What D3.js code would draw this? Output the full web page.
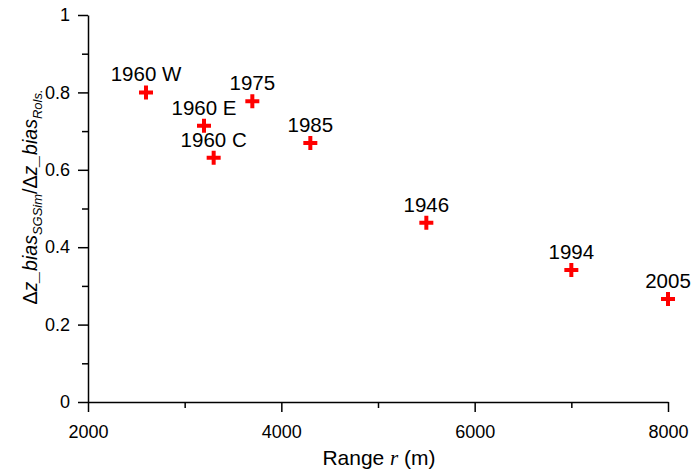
<!DOCTYPE html>
<html lang="en">
<head>
    <meta charset="UTF-8">
    <title>Bias ratio vs range</title>
    <script src="https://d3js.org/d3.v7.min.js"></script>
    <style>
        body { margin: 0; background: #fff; }
        text { font-family: Arial, "Liberation Sans", sans-serif; }
    </style>
</head>
<body>
    <div id="chart"></div>

    <script>
        // data
        const labels = ["1960 W", "1960 E", "1960 C", "1975", "1985", "1946", "1994", "2005"];
        const ranges = [2600, 3200, 3300, 3700, 4300, 5500, 7000, 8000];
        const ratios = [0.80, 0.714, 0.631, 0.777, 0.669, 0.463, 0.341, 0.266];
        const xTicks = [2000, 4000, 6000, 8000];
        const yTicks = [0, 0.2, 0.4, 0.6, 0.8, 1];

        const width = 694, height = 469;
        const margin = {left: 88, right: 26, top: 15, bottom: 67};

        const svg = d3.select("#chart").append("svg")
            .attr("width", width)
            .attr("height", height);

        const x = d3.scaleLinear().domain([2000, 8000]).range([margin.left, width - margin.right]);
        const y = d3.scaleLinear().domain([0, 1]).range([height - margin.bottom, margin.top]);

        // minor ticks first, then major axes on top
        svg.append("g")
            .attr("transform", `translate(0,${y(0)})`)
            .call(d3.axisBottom(x).tickValues([3000, 5000, 7000]).tickSize(6).tickFormat(""))
            .call(g => g.select(".domain").remove())
            .selectAll("line").attr("stroke-width", 1.5);
        svg.append("g")
            .attr("transform", `translate(${x(2000)},0)`)
            .call(d3.axisLeft(y).tickValues([0.1, 0.3, 0.5, 0.7, 0.9]).tickSize(6).tickFormat(""))
            .call(g => g.select(".domain").remove())
            .selectAll("line").attr("stroke-width", 1.5);

        const xAxis = svg.append("g")
            .attr("transform", `translate(0,${y(0)})`)
            .call(d3.axisBottom(x).tickValues(xTicks).tickSize(10).tickSizeOuter(0).tickPadding(13).tickFormat(d3.format("d")));
        const yAxis = svg.append("g")
            .attr("transform", `translate(${x(2000)},0)`)
            .call(d3.axisLeft(y).tickValues(yTicks).tickSize(10).tickSizeOuter(0).tickPadding(8).tickFormat(d => d === 0 || d === 1 ? String(d) : d.toFixed(1)));

        [xAxis, yAxis].forEach(g => {
            g.selectAll("line, path").attr("stroke", "#000").attr("stroke-width", 1.5);
            g.selectAll("text").attr("font-size", 18).attr("fill", "#000")
                .attr("font-family", "Arial, 'Liberation Sans', sans-serif");
        });

        // x-axis title
        const xt = svg.append("text")
            .attr("x", 379)
            .attr("y", 465)
            .attr("text-anchor", "middle")
            .attr("font-size", 21);
        xt.append("tspan").text("Range ");
        xt.append("tspan").attr("font-family", "'Liberation Serif', serif").attr("font-style", "italic").text("r");
        xt.append("tspan").text(" (m)");

        // y-axis title
        const yt = svg.append("text")
            .attr("transform", "translate(37,197) rotate(-90)")
            .attr("text-anchor", "middle")
            .attr("font-size", 19.5);
        yt.append("tspan").text("Δ");
        yt.append("tspan").attr("font-style", "italic").text("z_bias");
        yt.append("tspan").attr("font-style", "italic").attr("font-size", 13).attr("dy", 5).text("SGSim");
        yt.append("tspan").attr("dy", -5).text("/Δ");
        yt.append("tspan").attr("font-style", "italic").text("z_bias");
        yt.append("tspan").attr("font-style", "italic").attr("font-size", 13).attr("dy", 5).text("Rols.");

        // points as thick red crosses
        const pts = svg.append("g");
        const cross = 7;
        ranges.forEach((r, i) => {
            const cx = x(r), cy = y(ratios[i]);
            pts.append("path")
                .attr("d", `M${cx - cross},${cy}H${cx + cross}M${cx},${cy - cross}V${cy + cross}`)
                .attr("stroke", "#ff0000")
                .attr("stroke-width", 4)
                .attr("fill", "none");
            pts.append("text")
                .attr("x", cx)
                .attr("y", cy - 11)
                .attr("text-anchor", "middle")
                .attr("font-size", 20.5)
                .attr("fill", "#000")
                .text(labels[i]);
        });
    </script>
</body>
</html>
